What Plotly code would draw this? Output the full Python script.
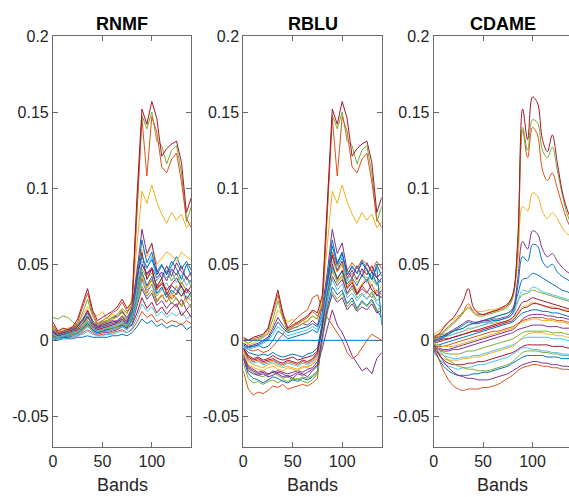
import plotly.graph_objects as go

# ---------------- data ----------------
bands = [0, 5, 10, 15, 20, 25, 30, 35, 40, 45, 50, 55, 60, 65, 70,
         75, 80, 85, 90, 95, 100, 105, 110, 115, 120, 125, 130, 135, 140]

titles = ["RNMF", "RBLU", "CDAME"]
y_ticks = [-0.05, 0, 0.05, 0.1, 0.15, 0.2]
y_tick_labels = ["-0.05", "0", "0.05", "0.1", "0.15", "0.2"]
x_ticks = [0, 50, 100]
x_tick_labels = ["0", "50", "100"]

rnmf = [
    [.001,.000,.001,.001,.001,.002,.002,.003,.002,.002,.002,.002,.003,.003,.004,.003,.005,.009,.014,.011,.013,.009,.011,.008,.010,.009,.011,.007,.009],
    [.002,.001,.002,.002,.002,.003,.005,.007,.005,.003,.004,.004,.005,.006,.007,.005,.007,.012,.019,.015,.017,.012,.014,.011,.013,.012,.010,.013,.011],
    [.001,.001,.001,.002,.002,.003,.004,.006,.004,.003,.003,.004,.004,.005,.006,.005,.008,.015,.024,.019,.022,.016,.019,.015,.018,.016,.019,.014,.017],
    [.003,.002,.003,.003,.004,.005,.007,.010,.007,.005,.006,.006,.007,.008,.010,.008,.010,.018,.028,.021,.025,.018,.022,.017,.021,.024,.016,.020,.015],
    [.002,.001,.002,.002,.003,.004,.006,.009,.006,.004,.005,.005,.006,.007,.009,.007,.011,.022,.034,.027,.031,.023,.026,.021,.025,.022,.027,.020,.024],
    [.004,.003,.004,.004,.005,.006,.008,.012,.008,.006,.007,.008,.009,.010,.012,.009,.013,.024,.036,.029,.033,.025,.029,.031,.024,.028,.022,.026,.021],
    [.006,.003,.004,.004,.006,.007,.010,.015,.010,.007,.008,.009,.010,.012,.014,.011,.015,.027,.040,.031,.037,.026,.030,.025,.031,.027,.023,.029,.026],
    [.004,.002,.003,.003,.004,.005,.008,.011,.008,.006,.007,.007,.008,.009,.011,.009,.013,.028,.041,.035,.040,.033,.037,.032,.027,.031,.038,.033,.029],
    [.009,.005,.006,.006,.007,.009,.012,.017,.011,.008,.009,.010,.012,.013,.016,.012,.017,.029,.043,.034,.039,.029,.033,.035,.028,.036,.032,.026,.030],
    [.003,.001,.002,.003,.003,.004,.006,.009,.006,.005,.006,.006,.007,.008,.009,.007,.012,.026,.039,.033,.036,.030,.034,.038,.031,.035,.029,.034,.028],
    [.003,.002,.002,.003,.004,.005,.008,.011,.007,.005,.006,.007,.008,.009,.010,.008,.014,.030,.045,.036,.042,.031,.035,.028,.033,.030,.036,.027,.032],
    [.005,.003,.004,.004,.005,.007,.009,.013,.009,.007,.008,.009,.010,.011,.013,.010,.016,.033,.050,.043,.047,.034,.038,.033,.037,.041,.035,.031,.036],
    [.002,.002,.003,.003,.004,.005,.007,.010,.008,.006,.007,.008,.008,.009,.011,.009,.015,.032,.047,.041,.044,.036,.040,.046,.039,.044,.037,.042,.035],
    [.007,.004,.005,.005,.007,.009,.013,.020,.013,.009,.011,.012,.014,.016,.019,.014,.020,.038,.058,.040,.047,.035,.041,.030,.036,.033,.029,.034,.031],
    [.006,.004,.005,.006,.007,.008,.011,.015,.011,.009,.010,.011,.012,.013,.016,.013,.019,.036,.050,.044,.048,.041,.045,.039,.047,.043,.049,.040,.045],
    [.004,.002,.003,.004,.005,.006,.009,.013,.008,.006,.007,.008,.009,.010,.012,.010,.016,.034,.052,.047,.055,.039,.044,.041,.046,.038,.043,.036,.040],
    [.008,.005,.006,.007,.008,.010,.013,.018,.013,.010,.012,.013,.015,.016,.019,.015,.021,.042,.055,.048,.053,.045,.050,.043,.049,.055,.047,.052,.046],
    [.005,.004,.004,.005,.006,.008,.010,.014,.012,.011,.013,.012,.014,.015,.018,.014,.020,.048,.060,.055,.063,.050,.054,.058,.056,.052,.058,.055,.053],
    [.006,.003,.004,.005,.006,.008,.011,.016,.010,.008,.009,.010,.011,.012,.014,.011,.018,.040,.066,.051,.058,.043,.049,.044,.052,.047,.040,.050,.042],
    [.005,.004,.005,.006,.008,.010,.014,.019,.012,.008,.010,.011,.013,.012,.015,.012,.022,.045,.073,.057,.064,.046,.041,.049,.042,.051,.045,.041,.038],
    [.008,.006,.007,.008,.009,.011,.017,.022,.018,.016,.019,.014,.017,.016,.020,.017,.028,.065,.098,.090,.102,.091,.083,.077,.084,.079,.083,.074,.078],
    [.015,.014,.016,.015,.012,.010,.018,.027,.016,.010,.012,.013,.015,.017,.021,.018,.024,.088,.148,.139,.150,.131,.128,.116,.125,.128,.110,.078,.088],
    [.010,.005,.006,.006,.008,.012,.022,.031,.018,.011,.013,.015,.018,.020,.025,.019,.022,.085,.146,.108,.147,.137,.114,.110,.119,.123,.104,.080,.074],
    [.012,.006,.008,.007,.009,.014,.024,.034,.020,.013,.015,.017,.019,.022,.027,.021,.025,.095,.152,.142,.157,.146,.121,.126,.129,.131,.117,.084,.094],
]
rnmf_colors = [0, 1, 5, 6, 3, 4, 1, 1, 2, 5, 0, 6, 4, 6, 3, 5, 0, 2, 0, 3, 2, 4, 1, 6]

rblu = [
    [-.020,-.032,-.036,-.034,-.035,-.033,-.030,-.031,-.029,-.032,-.031,-.030,-.029,-.030,-.028,-.025,.010,.040,.055,.045,.050,.035,.040,.030,.036,.032,.028,.033,.030],
    [-.015,-.025,-.028,-.027,-.029,-.027,-.026,-.028,-.026,-.027,-.025,-.026,-.024,-.025,-.023,-.020,.005,.030,.046,.038,.042,.030,.034,.028,.031,.027,.032,.026,.029],
    [-.012,-.022,-.025,-.026,-.028,-.026,-.024,-.025,-.027,-.028,-.026,-.027,-.025,-.026,-.024,-.021,.002,.022,.035,.030,.033,.024,.028,.021,.026,.023,.027,.020,.015],
    [-.011,-.019,-.021,-.023,-.024,-.022,-.021,-.023,-.025,-.024,-.026,-.025,-.027,-.028,-.026,-.022,.001,.018,.032,.027,.031,.022,.026,.020,.025,.022,.026,.019,.023],
    [-.012,-.020,-.022,-.023,-.022,-.024,-.023,-.021,-.022,-.024,-.023,-.021,-.022,-.024,-.020,-.017,.004,.020,.030,.025,.028,.020,.024,.019,.022,.020,.024,.018,.020],
    [-.009,-.017,-.019,-.021,-.020,-.022,-.021,-.020,-.021,-.022,-.021,-.020,-.021,-.019,-.018,-.014,.003,.026,.042,.036,.040,.031,.036,.030,.034,.031,.037,.029,.033],
    [-.010,-.018,-.020,-.022,-.021,-.023,-.020,-.022,-.024,-.023,-.025,-.022,-.023,-.021,-.019,-.016,-.005,.008,.020,.010,.005,-.002,-.010,-.015,-.020,-.018,-.022,-.012,-.008],
    [-.008,-.016,-.018,-.019,-.020,-.018,-.017,-.019,-.020,-.018,-.019,-.020,-.018,-.017,-.016,-.012,.008,.035,.052,.045,.050,.040,.044,.038,.042,.047,.040,.036,.041],
    [-.007,-.014,-.016,-.017,-.018,-.016,-.015,-.017,-.018,-.017,-.018,-.019,-.017,-.018,-.015,-.011,.007,.030,.045,.039,.043,.035,.039,.033,.037,.042,.036,.031,.036],
    [-.006,-.013,-.015,-.014,-.016,-.015,-.014,-.016,-.017,-.015,-.016,-.017,-.015,-.016,-.014,-.010,.006,.025,.040,.033,.037,.028,.031,.026,.030,.027,.031,.024,.022],
    [-.006,-.012,-.014,-.013,-.015,-.014,-.013,-.015,-.016,-.014,-.015,-.016,-.014,-.015,-.013,-.009,.011,.040,.058,.049,.054,.046,.051,.047,.053,.050,.045,.052,.047],
    [-.005,-.011,-.013,-.012,-.014,-.013,-.012,-.014,-.015,-.013,-.014,-.015,-.013,-.014,-.012,-.008,.009,.036,.056,.046,.052,.041,.046,.040,.047,.043,.049,.041,.045],
    [-.005,-.010,-.012,-.011,-.013,-.012,-.010,-.012,-.013,-.012,-.011,-.013,-.012,-.011,-.010,-.007,.010,.032,.050,.040,.046,.034,.038,.031,.036,.040,.033,.030,.028],
    [-.004,-.008,-.009,-.010,-.009,-.010,-.008,-.010,-.011,-.010,-.009,-.010,-.011,-.009,-.008,-.005,.012,.038,.062,.050,.057,.043,.048,.044,.051,.046,.040,.048,.010],
    [-.003,-.006,-.007,-.006,-.008,-.007,-.004,.000,.004,.008,.012,.015,.018,.020,.028,.030,.020,.015,.010,.005,.000,-.008,-.012,-.010,-.005,.000,.004,.002,.000],
    [-.002,-.004,-.004,-.003,-.005,-.004,.000,.006,.004,.001,.002,.003,.004,.005,.007,.005,.014,.032,.048,.041,.045,.037,.041,.036,.043,.039,.045,.037,.041],
    [-.004,-.006,-.005,-.004,-.002,.000,.004,.009,.006,.003,.004,.005,.006,.007,.009,.007,.016,.034,.052,.047,.055,.039,.044,.041,.046,.038,.043,.036,.040],
    [-.003,-.005,-.004,-.003,-.001,.001,.006,.012,.008,.005,.006,.007,.008,.009,.011,.009,.018,.040,.066,.051,.058,.043,.049,.044,.052,.047,.040,.050,.042],
    [-.002,-.004,-.003,-.002,.000,.002,.008,.015,.010,.006,.008,.009,.011,.010,.013,.010,.022,.045,.073,.057,.064,.046,.041,.049,.042,.051,.045,.041,.038],
    [.000,-.003,-.002,.000,.002,.004,.010,.020,.016,.012,.014,.010,.013,.012,.016,.014,.028,.065,.098,.090,.102,.091,.083,.077,.084,.079,.083,.074,.078],
    [.000,-.002,.000,.001,.002,.005,.014,.026,.014,.006,.008,.009,.011,.013,.016,.014,.024,.088,.148,.139,.150,.131,.128,.116,.125,.128,.110,.078,.088],
    [.001,.000,.001,.002,.003,.007,.018,.030,.016,.007,.009,.011,.013,.015,.019,.016,.022,.085,.146,.108,.147,.137,.114,.110,.119,.123,.104,.080,.074],
    [.002,.000,.002,.003,.004,.008,.020,.033,.018,.008,.010,.012,.014,.016,.020,.018,.030,.095,.152,.142,.157,.146,.121,.126,.129,.131,.117,.084,.094],
    [0, 0, 0, 0, 0, 0, 0, 0, 0, 0, 0, 0, 0, 0, 0, 0, 0, 0, 0, 0, 0, 0, 0, 0, 0, 0, 0, 0, 0],
]
rblu_colors = [1, 4, 0, 4, 3, 3, 3, 2, 2, 5, 1, 6, 6, 0, 1, 0, 5, 0, 3, 2, 4, 1, 6, 0]

cdame = [
    [.003,.004,.004,.005,.006,.007,.008,.010,.011,.012,.013,.014,.015,.016,.017,.018,.020,.026,.030,.031,.033,.032,.031,.030,.029,.028,.027,.026,.025],
    [.002,.002,.003,.003,.004,.005,.006,.007,.008,.009,.010,.011,.011,.012,.012,.013,.014,.018,.022,.023,.025,.024,.023,.022,.022,.021,.020,.020,.019],
    [.001,.002,.003,.004,.006,.007,.008,.010,.011,.012,.013,.014,.015,.016,.017,.018,.021,.030,.040,.041,.044,.043,.041,.039,.037,.035,.033,.032,.030],
    [.000,.001,.002,.003,.004,.005,.006,.008,.008,.009,.010,.011,.012,.013,.014,.015,.017,.025,.033,.032,.035,.034,.032,.031,.030,.029,.028,.027,.026],
    [.000,.000,.001,.001,.002,.003,.004,.005,.006,.006,.007,.008,.009,.010,.011,.012,.013,.017,.021,.022,.024,.024,.023,.022,.021,.021,.020,.019,.019],
    [-.002,-.001,.000,.001,.002,.003,.004,.005,.006,.007,.008,.009,.010,.011,.012,.013,.015,.020,.025,.026,.028,.027,.026,.025,.024,.023,.022,.021,.020],
    [-.003,-.003,-.002,-.001,.000,.001,.002,.003,.004,.005,.006,.007,.008,.009,.010,.011,.012,.015,.018,.019,.020,.020,.019,.019,.018,.018,.017,.016,.015],
    [-.004,-.004,-.004,-.003,-.002,-.001,.000,.001,.002,.003,.004,.005,.006,.006,.007,.008,.009,.011,.013,.014,.015,.015,.015,.014,.014,.013,.013,.012,.012],
    [-.003,-.005,-.006,-.006,-.005,-.004,-.003,-.002,-.001,.000,.001,.002,.003,.004,.005,.006,.007,.010,.014,.016,.017,.017,.017,.016,.016,.015,.015,.014,.014],
    [-.002,-.003,-.004,-.004,-.004,-.003,-.002,-.001,.000,.001,.002,.003,.004,.005,.006,.007,.008,.010,.012,.013,.014,.014,.013,.013,.013,.012,.012,.011,.010],
    [-.005,-.006,-.007,-.007,-.006,-.006,-.005,-.004,-.003,-.002,-.001,.000,.001,.002,.003,.004,.005,.007,.008,.009,.010,.010,.010,.009,.009,.009,.008,.008,.008],
    [-.004,-.006,-.008,-.009,-.009,-.009,-.008,-.007,-.007,-.006,-.005,-.004,-.003,-.002,-.001,.000,.001,.003,.005,.006,.006,.006,.006,.006,.005,.005,.005,.004,.004],
    [-.006,-.008,-.010,-.011,-.012,-.012,-.011,-.011,-.010,-.010,-.009,-.008,-.007,-.006,-.005,-.004,-.003,-.001,.001,.002,.002,.002,.002,.002,.001,.001,.001,.000,.000],
    [-.007,-.010,-.012,-.013,-.013,-.013,-.012,-.012,-.011,-.011,-.010,-.009,-.008,-.007,-.006,-.005,-.004,-.001,.002,.004,.005,.005,.005,.004,.004,.003,.003,.002,.002],
    [-.005,-.009,-.013,-.015,-.016,-.016,-.016,-.015,-.015,-.014,-.014,-.013,-.012,-.011,-.010,-.009,-.008,-.006,-.004,-.003,-.003,-.003,-.003,-.003,-.004,-.004,-.004,-.005,-.005],
    [-.008,-.012,-.015,-.017,-.018,-.019,-.018,-.018,-.017,-.016,-.016,-.015,-.014,-.013,-.012,-.011,-.009,-.007,-.005,-.005,-.006,-.006,-.007,-.007,-.008,-.008,-.009,-.009,-.010],
    [-.002,-.006,-.010,-.013,-.015,-.017,-.018,-.019,-.019,-.020,-.020,-.020,-.019,-.018,-.017,-.016,-.014,-.011,-.008,-.007,-.007,-.007,-.008,-.008,-.009,-.009,-.010,-.010,-.011],
    [-.006,-.012,-.017,-.020,-.022,-.023,-.023,-.023,-.022,-.022,-.021,-.021,-.020,-.019,-.018,-.017,-.015,-.013,-.011,-.010,-.010,-.010,-.010,-.011,-.011,-.011,-.012,-.012,-.012],
    [-.003,-.008,-.014,-.018,-.021,-.023,-.024,-.025,-.025,-.026,-.026,-.026,-.025,-.024,-.023,-.022,-.020,-.018,-.016,-.015,-.014,-.014,-.015,-.015,-.016,-.016,-.017,-.017,-.018],
    [-.004,-.012,-.020,-.026,-.030,-.032,-.033,-.032,-.032,-.032,-.031,-.031,-.030,-.029,-.027,-.025,-.023,-.020,-.018,-.017,-.016,-.016,-.017,-.017,-.018,-.018,-.019,-.019,-.020],
    [-.001,.000,.002,.004,.006,.008,.010,.012,.011,.011,.012,.012,.013,.013,.014,.015,.018,.035,.055,.052,.063,.062,.052,.048,.050,.045,.042,.040,.038],
    [.000,.001,.003,.005,.007,.009,.011,.013,.012,.012,.013,.013,.014,.014,.015,.016,.020,.040,.065,.060,.072,.070,.060,.055,.057,.052,.048,.045,.043],
    [.004,.006,.009,.012,.014,.016,.018,.021,.020,.019,.019,.020,.020,.021,.022,.024,.030,.050,.088,.085,.097,.095,.085,.080,.084,.080,.074,.070,.068],
    [.001,.003,.006,.009,.012,.015,.019,.024,.019,.017,.017,.018,.019,.020,.021,.023,.029,.060,.138,.120,.140,.135,.112,.105,.110,.100,.089,.079,.072],
    [.000,.002,.005,.008,.011,.014,.018,.022,.018,.016,.016,.017,.018,.019,.020,.022,.028,.062,.140,.125,.145,.143,.125,.120,.127,.112,.096,.083,.075],
    [.002,.004,.008,.012,.015,.020,.026,.034,.022,.018,.017,.018,.019,.020,.022,.024,.030,.065,.152,.132,.160,.156,.132,.124,.135,.117,.098,.086,.078],
]
cdame_colors = [4, 2, 0, 5, 6, 6, 0, 1, 3, 2, 3, 4, 5, 2, 6, 5, 4, 0, 3, 1, 0, 3, 2, 1, 4, 6]

# ---------------- style ----------------
palette = ["#0072BD", "#D95319", "#EDB120", "#7E2F8E", "#77AC30", "#4DBEEE", "#A2142F"]
W, H = 569, 497
x_domains = [[49.3 / W, 188.7 / W], [241.0 / W, 380.4 / W], [432.7 / W, 1.0]]
x_ranges = [[0, 140], [0, 140], [0, 140 * (569 - 432.7) / 139.4]]
y_domain = [1 - 446 / H, 1 - 28.5 / H]
axis_col = "#6b6b6b"
text_col = "#262626"
font_family = "Liberation Sans, Arial, sans-serif"

fig = go.Figure()
panels = [(rnmf, rnmf_colors, "linear"), (rblu, rblu_colors, "linear"), (cdame, cdame_colors, "spline")]
for i, (series, cols, shape) in enumerate(panels):
    suffix = "" if i == 0 else str(i + 1)
    for vals, ci in zip(series, cols):
        fig.add_trace(go.Scatter(
            x=bands, y=vals, mode="lines",
            line=dict(color=palette[ci], width=1, shape=shape),
            xaxis="x" + suffix, yaxis="y" + suffix,
            showlegend=False, hoverinfo="skip"))

layout = dict(
    width=W, height=H,
    margin=dict(l=0, r=0, t=0, b=0),
    paper_bgcolor="white", plot_bgcolor="white",
    font=dict(family=font_family, size=16, color=text_col),
    showlegend=False,
)
for i in range(3):
    suffix = "" if i == 0 else str(i + 1)
    layout["xaxis" + suffix] = dict(
        domain=x_domains[i], range=x_ranges[i], anchor="y" + suffix,
        tickmode="array", tickvals=x_ticks, ticktext=x_tick_labels,
        ticks="inside", ticklen=5, tickcolor=axis_col,
        showline=True, linecolor=axis_col, linewidth=1,
        mirror="ticks", showgrid=False, zeroline=False,
        tickfont=dict(size=16, color=text_col),
    )
    layout["yaxis" + suffix] = dict(
        domain=y_domain, range=[-0.07, 0.2], anchor="x" + suffix,
        tickmode="array", tickvals=y_ticks, ticktext=y_tick_labels,
        ticks="inside", ticklen=5, tickcolor=axis_col,
        showline=True, linecolor=axis_col, linewidth=1,
        mirror="ticks" if i < 2 else False, showgrid=False, zeroline=False,
        tickfont=dict(size=16, color=text_col),
    )
fig.update_layout(**layout)

annotations = []
for i in range(3):
    left = x_domains[i][0]
    right = (x_domains[i][0] + 139.4 / W) if i == 2 else x_domains[i][1]
    cx = (left + right) / 2
    annotations.append(dict(text="<b>" + titles[i] + "</b>", x=cx, y=1 - 16 / H,
                            xref="paper", yref="paper", showarrow=False,
                            xanchor="center", yanchor="middle",
                            font=dict(size=18, color="black", family=font_family)))
    annotations.append(dict(text="Bands", x=cx, y=1 - 485 / H,
                            xref="paper", yref="paper", showarrow=False,
                            xanchor="center", yanchor="middle",
                            font=dict(size=18, color=text_col, family=font_family)))
fig.update_layout(annotations=annotations)

fig.write_html(
    "out.html",
    config={"displayModeBar": False},
    post_script="document.body.style.margin='0';document.body.style.overflow='hidden';",
)
